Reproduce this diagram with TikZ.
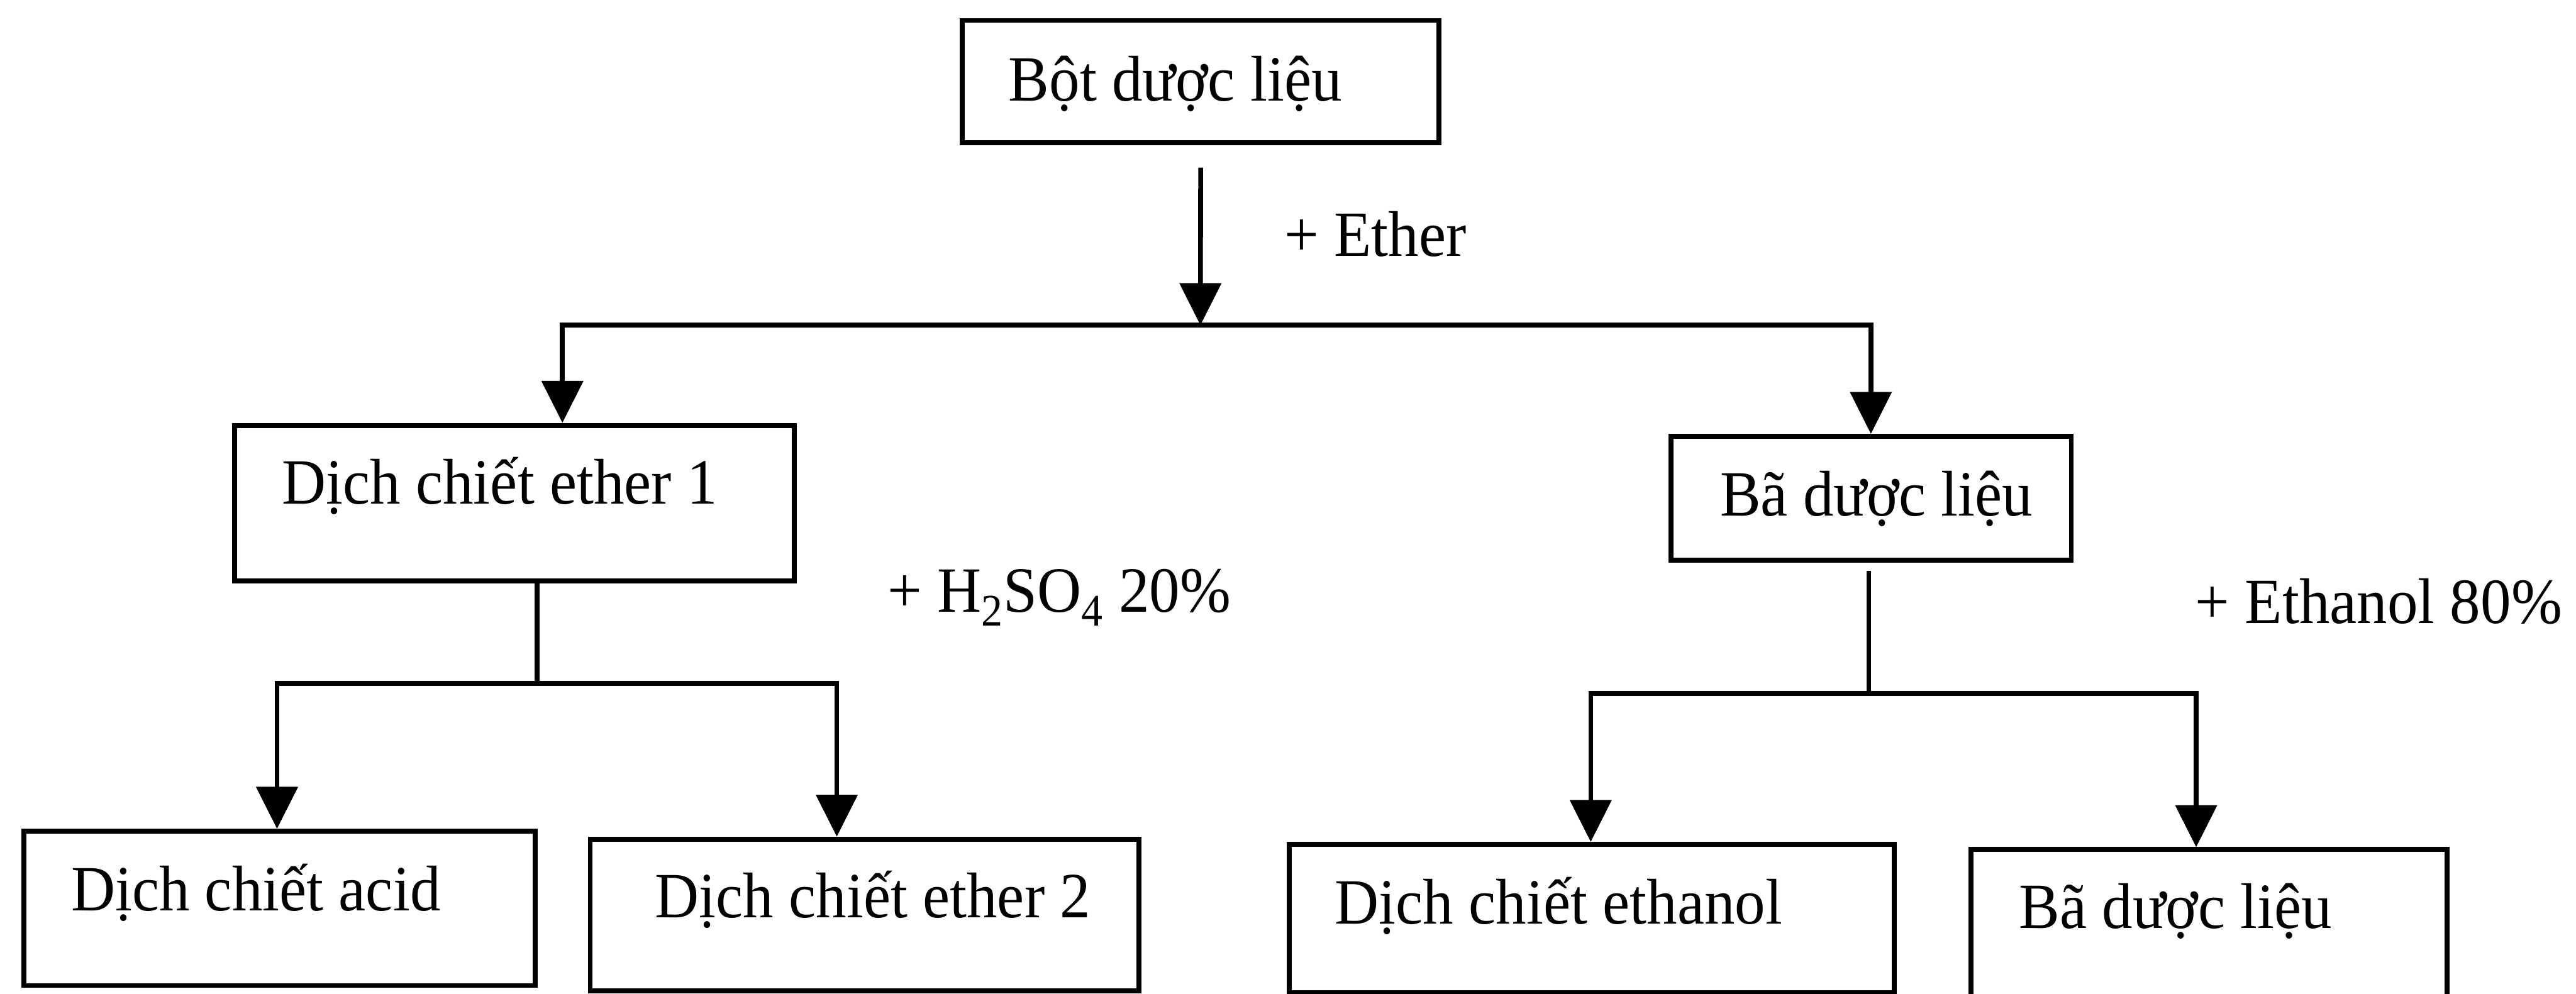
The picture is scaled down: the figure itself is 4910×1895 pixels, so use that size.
\documentclass[tikz,border=0pt]{standalone}
\usepackage{fontspec}
\setmainfont{Liberation Serif}[FakeStretch=0.945]
\usetikzlibrary{arrows.meta,fit}
\begin{document}
\begin{tikzpicture}[x=0.01cm,y=-0.01cm,
  box/.style={draw,line width=2.7pt,inner sep=0pt},
  lbl/.style={anchor=base west,inner sep=0pt,font=\fontsize{35}{42}\selectfont},
  conn/.style={line width=2.6pt,line join=miter},
  arr/.style={conn,-{Triangle[width=0.78cm,length=0.8cm]}}]
\useasboundingbox (0,0) rectangle (4910,1895);

% boxes
\node[box,fit={(1834,39) (2743,272)}] (top) {};
\node[box,fit={(447,811) (1514,1108)}] (e1) {};
\node[box,fit={(3185,832) (3948,1068)}] (bm) {};
\node[box,fit={(45,1585) (1020,1879)}] (acid) {};
\node[box,fit={(1125,1600) (2171,1889)}] (eth2) {};
\node[box,fit={(2457,1610) (3610,1893)}] (etoh) {};
\node[box,fit={(3757,1620) (4664,1920)}] (bb) {};

% box texts
\node[lbl] (ttop) at (1922,193) {Bột dược liệu};
\node[lbl] (te1) at (537,961) {Dịch chiết ether 1};
\node[lbl] (tbm) at (3278,984) {Bã dược liệu};
\node[lbl] (tacid) at (135,1736) {Dịch chiết acid};
\node[lbl] (teth2) at (1248,1750) {Dịch chiết ether 2};
\node[lbl] (tetoh) at (2544,1761) {Dịch chiết ethanol};
\node[lbl] (tbb) at (3848,1770) {Bã dược liệu};

% reagent labels
\node[lbl] (rether) at (2448,489) {+ Ether};
\node[lbl] (racid) at (1691,1167) {+ H\textsubscript{2}SO\textsubscript{4} 20\%};
\node[lbl] (retoh) at (4184,1188) {+ Ethanol 80\%};

% junction coordinates
\coordinate (j1) at (2288,620);
\coordinate (hl) at (1072,620);
\coordinate (hr) at (3566,620);
\coordinate (s1) at (1024,1303);
\coordinate (s1l) at (528,1303);
\coordinate (s1r) at (1595,1303);
\coordinate (s2) at (3562,1322);
\coordinate (s2l) at (3032,1322);
\coordinate (s2r) at (4186,1322);

% first split
\draw[arr] (top.south) ++(0,43) -- (j1);
\draw[arr] (j1) -- (hl) -- (hl |- e1.north);
\draw[arr] (j1) -- (hr) -- (hr |- bm.north);

% left split
\draw[conn] (e1.south -| s1) -- (s1);
\draw[arr] (s1) -- (s1l) -- (s1l |- acid.north);
\draw[arr] (s1) -- (s1r) -- (s1r |- eth2.north);

% right split
\draw[conn] (bm.south -| s2) ++(0,16) -- (s2);
\draw[arr] (s2) -- (s2l) -- (s2l |- etoh.north);
\draw[arr] (s2) -- (s2r) -- (s2r |- bb.north);
\end{tikzpicture}
\end{document}
